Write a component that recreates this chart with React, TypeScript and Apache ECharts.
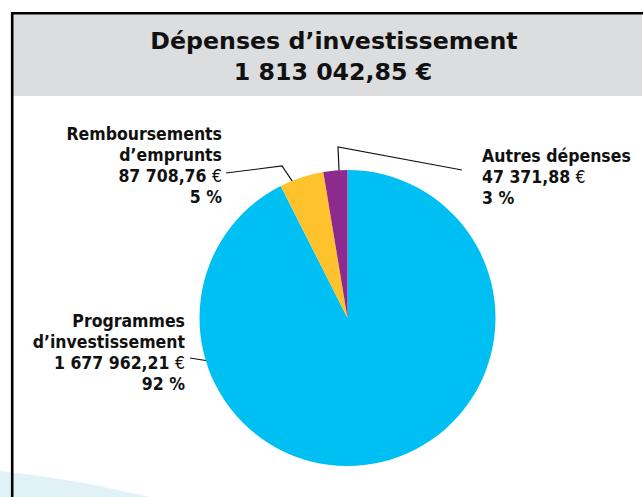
import React, { useEffect, useRef } from "react";
import * as echarts from "echarts";

const categories = ["Programmes\nd’investissement", "Remboursements\nd’emprunts", "Autres dépenses"];
const values = [1677962.21, 87708.76, 47371.88];
const percentLabels = ["92 %", "5 %", "3 %"];
const colors = ["#00C0F3", "#FDC22C", "#8E2A8D"];
const titleLines = ["Dépenses d’investissement", "1 813 042,85 €"];

const labelPos = [
  { x: 185, y: 310, align: "right" },
  { x: 222, y: 123, align: "right" },
  { x: 482, y: 145, align: "left" },
];
const leaderLines = [
  [[240, 366], [215, 362], [190, 358]],
  [[317, 218], [282, 166], [226, 173]],
  [[340, 192], [338, 147], [462, 170]],
];

function fmt(v: number): string {
  const [i, d] = v.toFixed(2).split(".");
  return i.replace(/\B(?=(\d{3})+(?!\d))/g, " ") + "," + d;
}

const LABEL_FONT = "'Liberation Sans Narrow', 'DejaVu Sans Condensed', sans-serif";
const TITLE_FONT = "bold 23.7px 'DejaVu Sans', sans-serif";

export default function App() {
  const ref = useRef<HTMLDivElement>(null);
  useEffect(() => {
    if (!ref.current) return;
    const chart = echarts.init(ref.current, null, { renderer: "svg" });
    chart.setOption({
      animation: false,
      graphic: [
        {
          type: "polygon",
          z: 0,
          shape: { points: [[0, 471], [40, 476], [90, 484], [150, 497], [0, 497]] },
          style: { fill: "#E0F2F6" },
          silent: true,
        },
        {
          type: "rect",
          z: 1,
          shape: { x: 13, y: 14, width: 629, height: 82 },
          style: { fill: "#DCDDDF" },
          silent: true,
        },
        {
          type: "polyline",
          z: 2,
          shape: { points: [[12.2, 510], [12.2, 13.2], [660, 13.2]] },
          style: { stroke: "#000", lineWidth: 2.6, fill: "none" },
          silent: true,
        },
        {
          type: "text",
          z: 3,
          x: 334,
          y: 41,
          style: {
            text: titleLines[0],
            fill: "#111",
            font: TITLE_FONT,
            align: "center",
            verticalAlign: "middle",
          },
        },
        {
          type: "text",
          z: 3,
          x: 333,
          y: 72,
          style: {
            text: titleLines[1],
            fill: "#111",
            font: TITLE_FONT,
            align: "center",
            verticalAlign: "middle",
          },
        },
      ],
      series: [
        {
          type: "pie",
          center: [347.5, 318],
          radius: 148,
          startAngle: 90,
          clockwise: true,
          silent: true,
          emphasis: { disabled: true },
          itemStyle: { borderWidth: 0 },
          data: categories.map((c, i) => ({
            name: c,
            value: values[i],
            itemStyle: { color: colors[i] },
          })),
          label: {
            show: true,
            position: "outside",
            formatter: (p: any) => {
              const lines = String(p.name).split("\n").map((l: string) => `{b|${l}}`);
              lines.push(`{b|${fmt(p.value)} }{e|€}`);
              lines.push(`{b|${percentLabels[p.dataIndex]}}`);
              return lines.join("\n");
            },
            rich: {
              b: { fontFamily: LABEL_FONT, fontWeight: "bold", fontSize: 17.5, lineHeight: 21, color: "#111" },
              e: { fontFamily: LABEL_FONT, fontWeight: "normal", fontSize: 17.5, lineHeight: 21, color: "#111" },
            },
          },
          labelLine: {
            show: true,
            length: 10,
            length2: 10,
            lineStyle: { color: "#111", width: 1.2 },
          },
          labelLayout: (params: any) => {
            const i = params.dataIndex;
            const lp = labelPos[i];
            return {
              x: lp.x,
              y: lp.y,
              align: lp.align,
              verticalAlign: "top",
              labelLinePoints: leaderLines[i],
            };
          },
        },
      ],
    });
    return () => chart.dispose();
  }, []);
  return (
    <div
      ref={ref}
      style={{ position: "fixed", left: 0, top: 0, width: 643, height: 497, background: "#fff" }}
    />
  );
}
